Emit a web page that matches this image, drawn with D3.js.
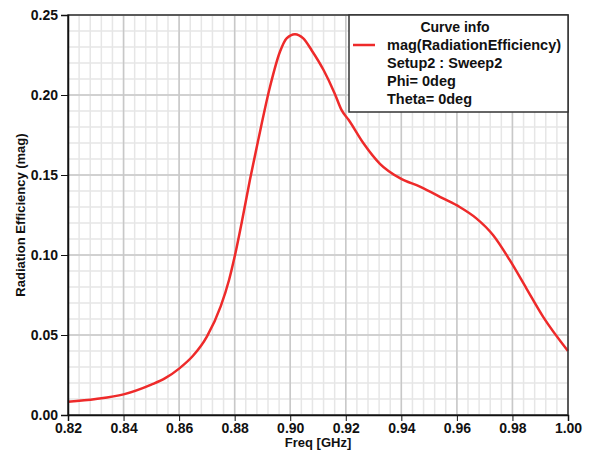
<!DOCTYPE html>
<html>
<head>
<meta charset="utf-8">
<script src="https://cdn.jsdelivr.net/npm/d3@7"></script>
<style>
    body { margin: 0; background: #fff; }
    text { font-family: "Liberation Sans", Arial, sans-serif; fill: #111; font-weight: bold; }
</style>
</head>
<body>
<div id="chart"></div>
<script>
// curve
var freq = [0.82, 0.83, 0.84, 0.85, 0.855, 0.86, 0.865, 0.87, 0.875, 0.878, 0.88, 0.8825, 0.8855, 0.8885,
    0.8927, 0.8963, 0.8987, 0.9017, 0.9047, 0.9077, 0.912, 0.916, 0.9185, 0.921, 0.9263, 0.9323,
    0.9395, 0.9467, 0.955, 0.961, 0.967, 0.973, 0.979, 0.985, 0.991, 1.00];
var efficiency = [0.0083, 0.010, 0.0129, 0.019, 0.023, 0.029, 0.037, 0.049, 0.068, 0.0845, 0.099, 0.12, 0.147, 0.172,
    0.205, 0.227, 0.2354, 0.238, 0.2354, 0.228, 0.2156, 0.201, 0.1905, 0.1845, 0.170, 0.157,
    0.148, 0.1427, 0.1354, 0.130, 0.1229, 0.1125, 0.0969, 0.0792, 0.0615, 0.040];

var xTicks = [0.82, 0.84, 0.86, 0.88, 0.90, 0.92, 0.94, 0.96, 0.98, 1.00];
var yTicks = [0.00, 0.05, 0.10, 0.15, 0.20, 0.25];
var legendLines = ["mag(RadiationEfficiency)", "Setup2 : Sweep2", "Phi= 0deg", "Theta= 0deg"];

var width = 590, height = 450;
var plotLeft = 68, plotRight = 568, plotTop = 15, plotBottom = 415;

var svg = d3.select("#chart").append("svg")
    .attr("width", width)
    .attr("height", height);

var x = d3.scaleLinear().domain([0.82, 1.00]).range([plotLeft, plotRight]);
var y = d3.scaleLinear().domain([0, 0.25]).range([plotBottom, plotTop]);

var xMinor = d3.range(0, 46).map(function (i) { return 0.82 + i * 0.004; });
var yMinor = d3.range(0, 26).map(function (i) { return i * 0.01; });

// grid: minor first, then major
svg.append("g").selectAll("line").data(xMinor).enter().append("line")
    .attr("x1", d => x(d)).attr("x2", d => x(d))
    .attr("y1", plotTop).attr("y2", plotBottom)
    .attr("stroke", "#e6e6e6").attr("stroke-width", 1.5);
svg.append("g").selectAll("line").data(yMinor).enter().append("line")
    .attr("x1", plotLeft).attr("x2", plotRight)
    .attr("y1", d => y(d)).attr("y2", d => y(d))
    .attr("stroke", "#e6e6e6").attr("stroke-width", 1.5);
svg.append("g").selectAll("line").data(xTicks).enter().append("line")
    .attr("x1", d => x(d)).attr("x2", d => x(d))
    .attr("y1", plotTop).attr("y2", plotBottom)
    .attr("stroke", "#c8c8c8").attr("stroke-width", 1.5);
svg.append("g").selectAll("line").data(yTicks).enter().append("line")
    .attr("x1", plotLeft).attr("x2", plotRight)
    .attr("y1", d => y(d)).attr("y2", d => y(d))
    .attr("stroke", "#c8c8c8").attr("stroke-width", 1.5);

// the curve
var line = d3.line()
    .x(function (d, i) { return x(freq[i]); })
    .y(function (d) { return y(d); })
    .curve(d3.curveMonotoneX);

svg.append("path")
    .datum(efficiency)
    .attr("d", line)
    .attr("fill", "none")
    .attr("stroke", "#ee2a2a")
    .attr("stroke-width", 2.5);

// frame
svg.append("rect")
    .attr("x", plotLeft).attr("y", plotTop)
    .attr("width", plotRight - plotLeft).attr("height", plotBottom - plotTop)
    .attr("fill", "none").attr("stroke", "#333").attr("stroke-width", 1.5);

// axes
var xAxis = svg.append("g").attr("transform", "translate(0," + plotBottom + ")");
xAxis.call(d3.axisBottom(x).tickValues(xMinor).tickSize(3).tickFormat(""));
xAxis.call(d3.axisBottom(x).tickValues(xTicks).tickSize(6).tickPadding(2).tickFormat(d3.format(".2f")));
xAxis.selectAll(".domain").attr("stroke", "#111").attr("stroke-width", 1.5);
xAxis.selectAll("line").attr("stroke", "#111");
xAxis.selectAll("text").style("font-size", "14px").attr("fill", "#111");

var yAxis = svg.append("g").attr("transform", "translate(" + plotLeft + ",0)");
yAxis.call(d3.axisLeft(y).tickValues(yMinor).tickSize(4).tickFormat(""));
yAxis.call(d3.axisLeft(y).tickValues(yTicks).tickSize(7).tickPadding(3).tickFormat(d3.format(".2f")));
yAxis.selectAll(".domain").attr("stroke", "#111").attr("stroke-width", 1.5);
yAxis.selectAll("line").attr("stroke", "#111");
yAxis.selectAll("text").style("font-size", "14px").attr("fill", "#111");

// axis titles
svg.append("text")
    .attr("x", 318)
    .attr("y", 447)
    .attr("text-anchor", "middle")
    .style("font-size", "13px")
    .text("Freq [GHz]");

svg.append("text")
    .attr("transform", "translate(25," + (plotTop + plotBottom) / 2 + ") rotate(-90)")
    .attr("text-anchor", "middle")
    .style("font-size", "13px")
    .text("Radiation Efficiency (mag)");

// legend
var legend = svg.append("g");
legend.append("rect")
    .attr("x", 349).attr("y", 15)
    .attr("width", 219).attr("height", 97)
    .attr("fill", "#fff").attr("stroke", "#333").attr("stroke-width", 1.5);
legend.append("text")
    .attr("x", 455).attr("y", 32)
    .attr("text-anchor", "middle")
    .style("font-size", "14px")
    .text("Curve info");
legend.append("line")
    .attr("x1", 353).attr("x2", 375)
    .attr("y1", 45).attr("y2", 45)
    .attr("stroke", "#ee2a2a").attr("stroke-width", 2.5);
legend.selectAll(".entry").data(legendLines).enter().append("text")
    .attr("class", "entry")
    .attr("x", 387)
    .attr("y", function (d, i) { return 50 + i * 18; })
    .style("font-size", "14.5px")
    .text(function (d) { return d; });
</script>
</body>
</html>
